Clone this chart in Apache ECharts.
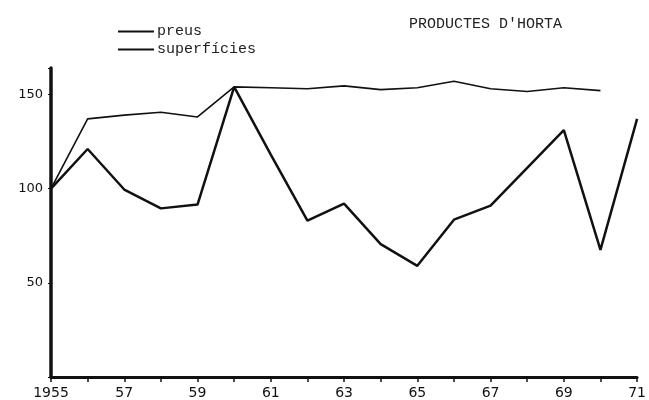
<!DOCTYPE html>
<html>
<head>
<meta charset="utf-8">
<script src="https://cdn.jsdelivr.net/npm/echarts@6/dist/echarts.min.js"></script>
<style>
  html, body { margin: 0; padding: 0; background: #fff; }
  #chart { width: 649px; height: 400px; }
</style>
</head>
<body>
<div id="chart"></div>
<script>
// anys 1955-1971
const years = ['1955', '56', '57', '58', '59', '60', '61', '62', '63', '64', '65', '66', '67', '68', '69', '70', '71'];
// index, 1955 = 100
const preus = [100, 121, 99.5, 89.5, 91.5, 154, 118, 83, 92, 70.5, 59, 83.5, 91, 111, 131, 67.5, 137];
const superficies = [100, 137, 139, 140.5, 138, 154, 153.5, 153, 154.5, 152.5, 153.5, 157, 153, 151.5, 153.5, 152];
const yTicks = [50, 100, 150];

const chart = echarts.init(document.getElementById('chart'));

const option = {
  backgroundColor: '#ffffff',
  animation: false,
  title: {
    text: "PRODUCTES D'HORTA",
    left: 404,
    top: 12,
    textStyle: {
      fontFamily: 'Liberation Mono',
      fontWeight: 'normal',
      fontSize: 15,
      color: '#222'
    }
  },
  legend: {
    orient: 'vertical',
    left: 113,
    top: 19,
    itemWidth: 36,
    itemHeight: 2,
    itemGap: 3,
    icon: 'rect',
    textStyle: {
      fontFamily: 'Liberation Mono',
      fontSize: 15,
      color: '#222',
      padding: [0, 0, 0, -2]
    },
    data: ['preus', 'superfícies']
  },
  grid: {
    left: 51,
    right: 10,
    top: 68,
    bottom: 23
  },
  xAxis: {
    type: 'category',
    data: years,
    boundaryGap: false,
    axisLine: { lineStyle: { color: '#111', width: 3 } },
    axisTick: {
      interval: 0,
      length: 5,
      lineStyle: { color: '#111', width: 1.5 }
    },
    axisLabel: {
      interval: 1,
      margin: 9,
      fontFamily: 'DejaVu Sans',
      fontSize: 14,
      color: '#111'
    },
    splitLine: { show: false }
  },
  yAxis: {
    type: 'value',
    min: 0,
    max: 164,
    interval: 50,
    axisLine: { show: true, lineStyle: { color: '#111', width: 3.5 } },
    axisTick: { show: true, length: 3, lineStyle: { color: '#111' } },
    axisLabel: {
      margin: 8,
      fontFamily: 'DejaVu Sans',
      fontSize: 13,
      color: '#111',
      formatter: function (v) {
        return yTicks.indexOf(v) >= 0 ? String(v) : '';
      }
    },
    splitLine: { show: false }
  },
  series: [
    {
      name: 'preus',
      type: 'line',
      data: preus,
      showSymbol: false,
      symbol: 'none',
      lineStyle: { color: '#111', width: 2.5 },
      itemStyle: { color: '#111' }
    },
    {
      name: 'superfícies',
      type: 'line',
      data: superficies,
      showSymbol: false,
      symbol: 'none',
      lineStyle: { color: '#111', width: 1.6 },
      itemStyle: { color: '#111' }
    }
  ]
};

chart.setOption(option);
</script>
</body>
</html>
